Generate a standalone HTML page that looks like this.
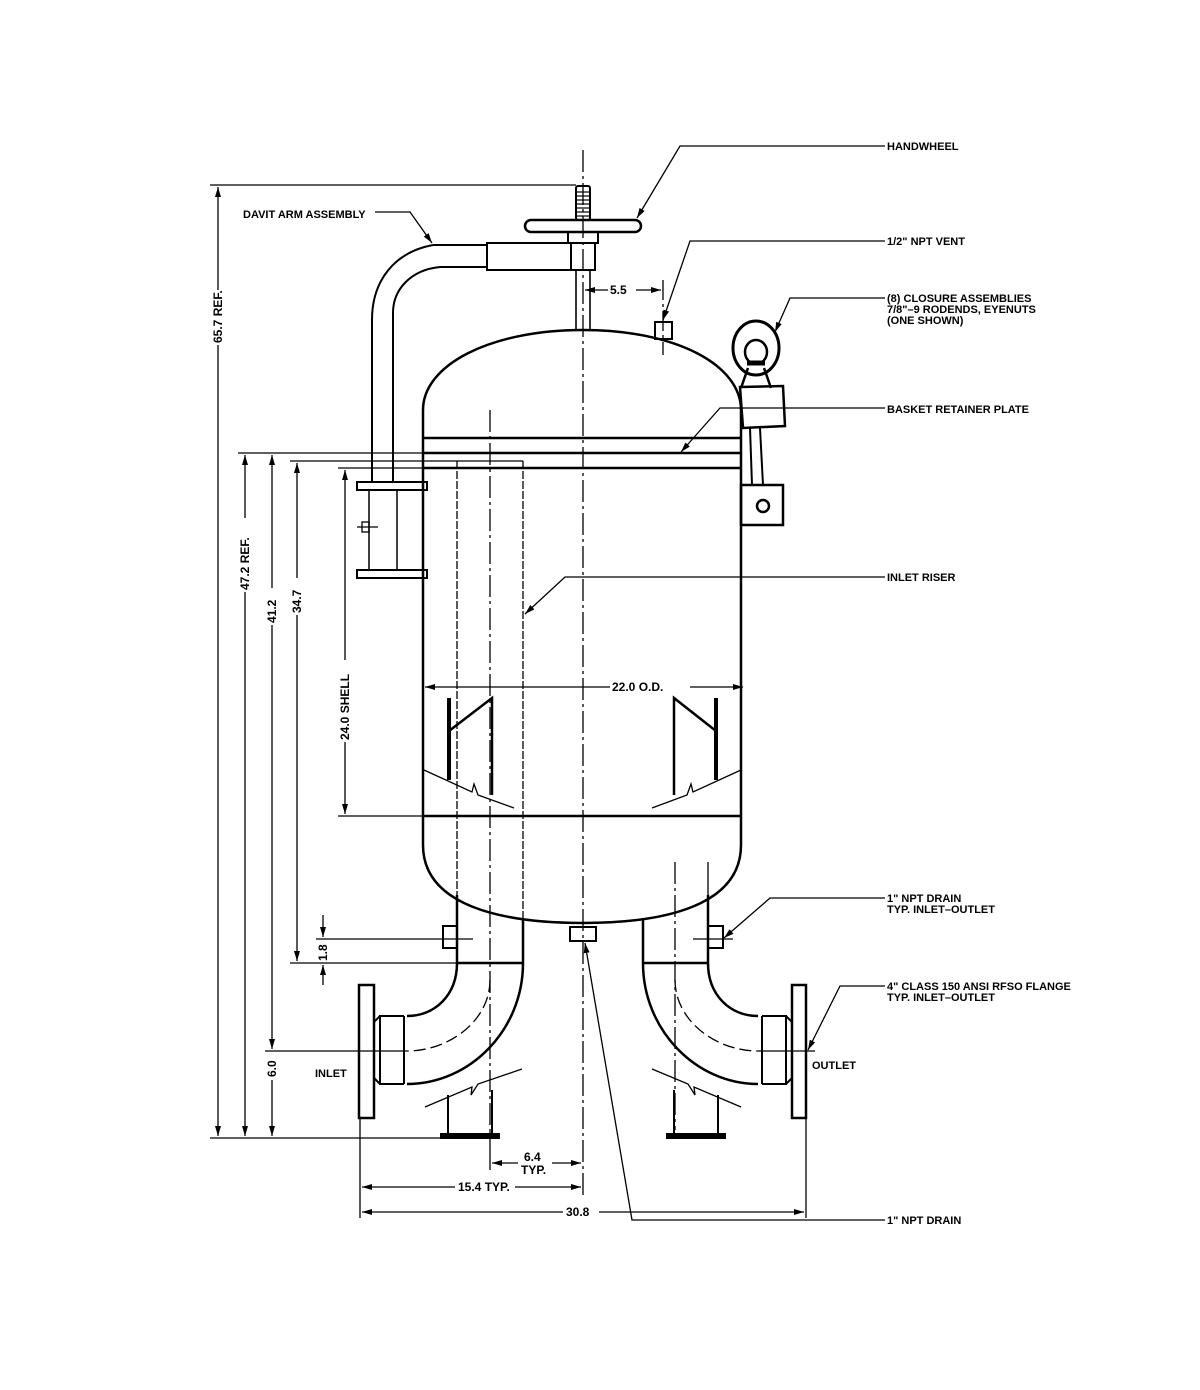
<!DOCTYPE html>
<html><head><meta charset="utf-8"><style>
html,body{margin:0;padding:0;background:#fff}
svg{display:block}
text{font-family:"Liberation Sans",sans-serif;font-weight:bold;font-size:11px;fill:#000}
text.d{font-size:12px}
</style></head><body>
<svg width="1200" height="1390" viewBox="0 0 1200 1390" xmlns="http://www.w3.org/2000/svg">
<defs>
<marker id="a" viewBox="0 0 10 6" refX="10" refY="3" markerWidth="10" markerHeight="6" orient="auto-start-reverse" markerUnits="userSpaceOnUse"><path d="M0,0 L10,3 L0,6z" fill="#000"/></marker>
</defs>
<g fill="none" stroke="#000" stroke-width="1.3">
<line x1="583" y1="150" x2="583" y2="1195" stroke-dasharray="22,4,3,4"/>
<line x1="490" y1="410" x2="490" y2="1130" stroke-dasharray="22,4,3,4"/>
<line x1="675" y1="862" x2="675" y2="1130" stroke-dasharray="22,4,3,4"/>
<line x1="457" y1="461" x2="457" y2="920" stroke-dasharray="8,2"/>
<line x1="523" y1="461" x2="523" y2="920" stroke-dasharray="8,2"/>
<line x1="708" y1="862" x2="708" y2="895"/>
</g>
<g fill="none" stroke="#000" stroke-width="2.5">
<path d="M423,845 L423,410 C423,365 490,330 583,330 C676,330 741,365 741,410 L741,845"/>
<path d="M423,845 C423,905 500,923 583,923 C666,923 741,905 741,845"/>
<line x1="423" y1="438" x2="741" y2="438"/>
<line x1="423" y1="453" x2="741" y2="453"/>
<line x1="423" y1="468" x2="741" y2="468"/>
<line x1="423" y1="816" x2="741" y2="816"/>
<rect x="525" y="220" width="116" height="12" rx="6"/>
<rect x="568" y="232" width="30" height="11" stroke-width="2"/>
<rect x="571" y="243" width="24" height="27" stroke-width="2"/>
<rect x="487" y="243" width="84" height="27" stroke-width="2"/>
<path d="M433,245 L487,245 M440,267 L487,267" stroke-width="2"/>
<path d="M433,245 C395,252 372,280 372,320 L372,483" stroke-width="2"/>
<path d="M440,267 C410,270 393,290 393,313 L393,483" stroke-width="2"/>
<rect x="576" y="186" width="14" height="34" rx="2" stroke-width="2"/>
<line x1="576" y1="270" x2="576" y2="330" stroke-width="1.6"/>
<line x1="590" y1="270" x2="590" y2="330" stroke-width="1.6"/>
<rect x="357" y="482" width="70" height="8" stroke-width="2"/>
<rect x="357" y="570" width="70" height="8" stroke-width="2"/>
<line x1="369" y1="490" x2="369" y2="570" stroke-width="1.5"/>
<line x1="397" y1="490" x2="397" y2="570" stroke-width="1.5"/>
<rect x="655" y="322" width="17" height="17" stroke-width="2"/>
<ellipse cx="756" cy="348" rx="23" ry="27" stroke-width="3"/>
<ellipse cx="756" cy="352" rx="11" ry="12" stroke-width="2.5"/>
<path d="M748,368 L741,388 M764,368 L771,388" stroke-width="2.5"/>
<line x1="747" y1="363" x2="765" y2="363" stroke-width="5"/>
<path d="M740,387 L783,386 L785,426 L743,428 Z" stroke-width="2.5"/>
<path d="M750,428 L752,485 M760,428 L763,485" stroke-width="2"/>
<rect x="741" y="485" width="42" height="40" stroke-width="2.5"/>
<circle cx="763" cy="506" r="6" stroke-width="2.5"/>
<path d="M449,698 L449,780" stroke-width="4"/>
<path d="M449,731 L492,698 L492,795"/>
<path d="M716,698 L716,780" stroke-width="4"/>
<path d="M716,731 L674,698 L674,795"/>
<path d="M457,895 L457,963 C457,995 435,1016 407,1016"/>
<path d="M523,918 L523,963 C523,1030 470,1084 407,1084"/>
<line x1="457" y1="963" x2="523" y2="963"/>
<path d="M708,895 L708,963 C708,995 730,1016 758,1016"/>
<path d="M643,918 L643,963 C643,1030 696,1084 758,1084"/>
<line x1="643" y1="963" x2="708" y2="963"/>
<path d="M404,1016 L380,1016 L380,1084 L404,1084 M404,1016 L404,1084" stroke-width="2"/>
<path d="M380,1016 L374,1022 L374,1078 L380,1084" stroke-width="2"/>
<rect x="359" y="985" width="15" height="133"/>
<path d="M762,1016 L786,1016 L786,1084 L762,1084 M762,1016 L762,1084" stroke-width="2"/>
<path d="M786,1016 L792,1022 L792,1078 L786,1084" stroke-width="2"/>
<rect x="792" y="985" width="14" height="133"/>
<rect x="570" y="927" width="26" height="14" stroke-width="2"/>
<path d="M458,926 L443,926 L443,948 L458,948" stroke-width="2"/>
<path d="M708,926 L723,926 L723,948 L708,948" stroke-width="2"/>
<path d="M448,1095 L448,1133 M492,1090 L492,1133" stroke-width="2"/>
<path d="M674,1090 L674,1133 M718,1095 L718,1133" stroke-width="2"/>
<line x1="440" y1="1136" x2="500" y2="1136" stroke-width="6"/>
<line x1="666" y1="1136" x2="726" y2="1136" stroke-width="6"/>
</g>
<g stroke="#000" stroke-width="1.2">
<line x1="577" y1="192" x2="589" y2="192"/><line x1="577" y1="196" x2="589" y2="196"/>
<line x1="577" y1="200" x2="589" y2="200"/><line x1="577" y1="204" x2="589" y2="204"/>
<line x1="577" y1="208" x2="589" y2="208"/><line x1="577" y1="212" x2="589" y2="212"/>
<line x1="577" y1="216" x2="589" y2="216"/>
</g>
<g fill="none" stroke="#000" stroke-width="1.3">
<path d="M490,980 C490,1020 450,1051 407,1051" stroke-dasharray="12,5"/>
<path d="M675,980 C675,1020 715,1051 758,1051" stroke-dasharray="12,5"/>
<line x1="265" y1="1051" x2="407" y2="1051"/>
<line x1="758" y1="1051" x2="815" y2="1051"/>
<path d="M424,770 L472,792 L474,784 L478,795 L514,808"/>
<path d="M741,770 L693,792 L691,784 L687,795 L652,808"/>
<path d="M425,1107 L472,1087 L471,1095 L478,1084 L522,1069"/>
<path d="M741,1107 L694,1087 L695,1095 L688,1084 L652,1069"/>
<line x1="290" y1="461" x2="523" y2="461"/>
<line x1="432" y1="939" x2="473" y2="939"/>
<line x1="693" y1="939" x2="733" y2="939"/>
<line x1="357" y1="527" x2="378" y2="527"/>
<rect x="362" y="522" width="7" height="10"/>
<line x1="210" y1="185" x2="576" y2="185"/>
<line x1="210" y1="1138" x2="440" y2="1138"/>
<line x1="238" y1="453" x2="423" y2="453"/>
<line x1="338" y1="468" x2="423" y2="468"/>
<line x1="338" y1="816" x2="423" y2="816"/>
<line x1="290" y1="963" x2="457" y2="963"/>
<line x1="316" y1="939" x2="432" y2="939"/>
<line x1="663" y1="280" x2="663" y2="355" stroke-dasharray="20,4,3,4"/>
<line x1="360" y1="1118" x2="360" y2="1218"/>
<line x1="806" y1="1118" x2="806" y2="1218"/>
<line x1="490" y1="1130" x2="490" y2="1170"/>
</g>
<g stroke="#000" stroke-width="1.3" fill="none">
<line x1="218" y1="187" x2="218" y2="290" marker-start="url(#a)"/>
<line x1="218" y1="345" x2="218" y2="1136" marker-end="url(#a)"/>
<line x1="245" y1="455" x2="245" y2="518" marker-start="url(#a)"/>
<line x1="245" y1="592" x2="245" y2="1136" marker-end="url(#a)"/>
<line x1="272" y1="455" x2="272" y2="588" marker-start="url(#a)"/>
<line x1="272" y1="625" x2="272" y2="1049" marker-end="url(#a)"/>
<line x1="272" y1="1080" x2="272" y2="1136" marker-end="url(#a)"/>
<line x1="297" y1="463" x2="297" y2="578" marker-start="url(#a)"/>
<line x1="297" y1="615" x2="297" y2="961" marker-end="url(#a)"/>
<line x1="345" y1="470" x2="345" y2="660" marker-start="url(#a)"/>
<line x1="345" y1="742" x2="345" y2="814" marker-end="url(#a)"/>
<line x1="323" y1="915" x2="323" y2="937" marker-end="url(#a)"/>
<line x1="323" y1="985" x2="323" y2="965" marker-end="url(#a)"/>
<line x1="425" y1="687" x2="610" y2="687" marker-start="url(#a)"/>
<line x1="690" y1="687" x2="743" y2="687" marker-end="url(#a)"/>
<line x1="585" y1="290" x2="608" y2="290" marker-start="url(#a)"/>
<line x1="636" y1="290" x2="661" y2="290" marker-end="url(#a)"/>
<line x1="492" y1="1163" x2="518" y2="1163" marker-start="url(#a)"/>
<line x1="552" y1="1163" x2="581" y2="1163" marker-end="url(#a)"/>
<line x1="362" y1="1187" x2="455" y2="1187" marker-start="url(#a)"/>
<line x1="515" y1="1187" x2="581" y2="1187" marker-end="url(#a)"/>
<line x1="362" y1="1212" x2="563" y2="1212" marker-start="url(#a)"/>
<line x1="599" y1="1212" x2="804" y2="1212" marker-end="url(#a)"/>
<polyline points="885,146 680,146 637,218" marker-end="url(#a)"/>
<polyline points="375,212 410,212 432,243" marker-end="url(#a)"/>
<polyline points="885,241 690,241 663,320" marker-end="url(#a)"/>
<polyline points="885,298 790,298 775,332" marker-end="url(#a)"/>
<polyline points="885,408 720,408 681,452" marker-end="url(#a)"/>
<polyline points="885,577 565,577 525,614" marker-end="url(#a)"/>
<polyline points="885,898 770,898 724,938" marker-end="url(#a)"/>
<polyline points="885,986 840,986 808,1050" marker-end="url(#a)"/>
<polyline points="885,1220 632,1220 585,943" marker-end="url(#a)"/>
</g>
<text x="887" y="150">HANDWHEEL</text>
<text x="243" y="218">DAVIT ARM ASSEMBLY</text>
<text x="887" y="245">1/2" NPT VENT</text>
<text x="887" y="302">(8) CLOSURE ASSEMBLIES</text>
<text x="887" y="313">7/8"–9 RODENDS, EYENUTS</text>
<text x="887" y="324">(ONE SHOWN)</text>
<text x="887" y="413">BASKET RETAINER PLATE</text>
<text x="887" y="581">INLET RISER</text>
<text x="887" y="902">1" NPT DRAIN</text>
<text x="887" y="913">TYP. INLET–OUTLET</text>
<text x="887" y="990">4" CLASS 150 ANSI RFSO FLANGE</text>
<text x="887" y="1001">TYP. INLET–OUTLET</text>
<text x="887" y="1224">1" NPT DRAIN</text>
<text x="812" y="1069">OUTLET</text>
<text x="315" y="1077">INLET</text>
<text class="d" x="612" y="691">22.0 O.D.</text>
<text class="d" x="610" y="294">5.5</text>
<text class="d" x="524" y="1161">6.4</text>
<text class="d" x="521" y="1174">TYP.</text>
<text class="d" x="458" y="1191">15.4 TYP.</text>
<text class="d" x="566" y="1216">30.8</text>
<text class="d" transform="translate(222,343) rotate(-90)">65.7 REF.</text>
<text class="d" transform="translate(249,590) rotate(-90)">47.2 REF.</text>
<text class="d" transform="translate(276,623) rotate(-90)">41.2</text>
<text class="d" transform="translate(301,613) rotate(-90)">34.7</text>
<text class="d" transform="translate(349,740) rotate(-90)">24.0 SHELL</text>
<text class="d" transform="translate(327,961) rotate(-90)">1.8</text>
<text class="d" transform="translate(276,1077) rotate(-90)">6.0</text>
</svg>
</body></html>
